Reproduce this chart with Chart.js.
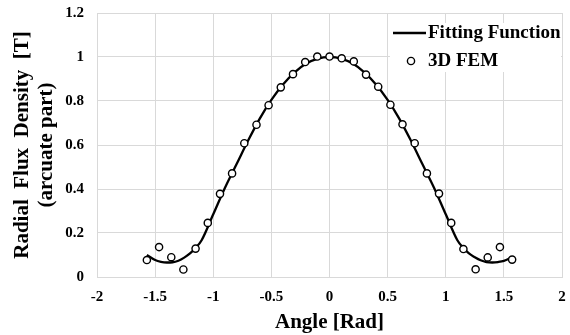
<!DOCTYPE html>
<html>
<head>
<meta charset="utf-8">
<script src="https://cdn.jsdelivr.net/npm/chart.js@4"></script>
<style>
  html, body { margin: 0; padding: 0; background: #fff; }
  #wrap { width: 570px; height: 335px; position: relative; }
</style>
</head>
<body>
<div id="wrap"><canvas id="chart"></canvas></div>
<script>
// ── Data ──
const femAngle = [-1.571, -1.466, -1.361, -1.257, -1.152, -1.047, -0.942, -0.838, -0.733, -0.628,
                  -0.524, -0.419, -0.314, -0.209, -0.105, 0, 0.105, 0.209, 0.314, 0.419,
                  0.524, 0.628, 0.733, 0.838, 0.942, 1.047, 1.152, 1.257, 1.361, 1.466, 1.571];
const femFlux  = [0.077, 0.136, 0.090, 0.034, 0.129, 0.246, 0.378, 0.471, 0.608, 0.692,
                  0.781, 0.862, 0.922, 0.977, 1.002, 1.002, 0.994, 0.980, 0.920, 0.865,
                  0.783, 0.694, 0.608, 0.471, 0.379, 0.246, 0.127, 0.035, 0.089, 0.136, 0.079];

const fitAngle = [-1.571, -1.5, -1.45, -1.4, -1.35, -1.3, -1.25, -1.2, -1.15, -1.1, -1.0, -0.9, -0.8,
                  -0.7, -0.6, -0.5, -0.4, -0.3, -0.2, -0.1, 0, 0.1, 0.2, 0.3, 0.4, 0.5, 0.6, 0.7,
                  0.8, 0.9, 1.0, 1.1, 1.15, 1.2, 1.25, 1.3, 1.35, 1.4, 1.45, 1.5, 1.571];
const fitFlux  = [0.100, 0.077, 0.069, 0.066, 0.067, 0.074, 0.088, 0.107, 0.133, 0.167, 0.285, 0.405, 0.512,
                  0.620, 0.720, 0.805, 0.875, 0.930, 0.970, 0.993, 1.000, 0.993, 0.970, 0.930, 0.875, 0.805, 0.720, 0.620,
                  0.512, 0.405, 0.285, 0.167, 0.133, 0.107, 0.090, 0.076, 0.068, 0.066, 0.068, 0.073, 0.090];

const xTicks = [-2, -1.5, -1, -0.5, 0, 0.5, 1, 1.5, 2];
const xTickLabels = ['-2', '-1.5', '-1', '-0.5', '0', '0.5', '1', '1.5', '2'];
const yTicks = [0, 0.2, 0.4, 0.6, 0.8, 1, 1.2];
const yTickLabels = ['0', '0.2', '0.4', '0.6', '0.8', '1', '1.2'];

const FONT = "'Liberation Serif', 'Times New Roman', serif";
const GRID = '#d9d9d9';

// ── Legend drawn inside the plot, on a white box ──
const innerLegend = {
  id: 'innerLegend',
  afterDraw(chart) {
    const { ctx, chartArea } = chart;
    const right = chartArea.right - 1;
    const top = chartArea.top + 10;
    ctx.save();
    ctx.fillStyle = '#fff';
    ctx.fillRect(right - 171, top, 171, 49);

    ctx.font = `bold 19px ${FONT}`;
    ctx.fillStyle = '#000';
    ctx.textBaseline = 'middle';
    const textX = right - 133;

    // Fitting Function
    const fit = chart.data.datasets[1];
    ctx.strokeStyle = fit.borderColor;
    ctx.lineWidth = fit.borderWidth;
    ctx.beginPath();
    ctx.moveTo(textX - 35, top + 10);
    ctx.lineTo(textX - 2, top + 10);
    ctx.stroke();
    ctx.fillText(fit.label, textX, top + 10);

    // 3D FEM
    const fem = chart.data.datasets[0];
    ctx.beginPath();
    ctx.arc(textX - 17, top + 38, fem.pointRadius, 0, Math.PI * 2);
    ctx.fillStyle = fem.pointBackgroundColor;
    ctx.fill();
    ctx.strokeStyle = fem.pointBorderColor;
    ctx.lineWidth = fem.pointBorderWidth;
    ctx.stroke();
    ctx.fillStyle = '#000';
    ctx.fillText(fem.label, textX, top + 38);
    ctx.restore();
  }
};

new Chart(document.getElementById('chart'), {
  type: 'scatter',
  data: {
    datasets: [
      {
        label: '3D FEM',
        data: femAngle.map((a, i) => ({ x: a, y: femFlux[i] })),
        showLine: false,
        pointRadius: 3.6,
        pointBorderWidth: 1.4,
        pointBorderColor: '#000',
        pointBackgroundColor: '#fff',
        order: 0
      },
      {
        label: 'Fitting Function',
        type: 'line',
        data: fitAngle.map((a, i) => ({ x: a, y: fitFlux[i] })),
        borderColor: '#000',
        borderWidth: 2.3,
        pointRadius: 0,
        fill: false,
        cubicInterpolationMode: 'monotone',
        order: 1
      }
    ]
  },
  options: {
    responsive: true,
    maintainAspectRatio: false,
    animation: false,
    layout: { padding: { top: 13, right: 8, left: 0, bottom: 0 } },
    plugins: {
      legend: { display: false },
      tooltip: { enabled: false }
    },
    scales: {
      x: {
        type: 'linear',
        position: 'bottom',
        min: -2,
        max: 2,
        afterBuildTicks: (s) => { s.ticks = xTicks.map(v => ({ value: v })); },
        afterFit: (s) => { s.height = 58; s.paddingLeft = 0; s.paddingRight = 0; },
        grid: { color: GRID, drawTicks: false },
        border: { color: GRID },
        ticks: {
          padding: 11,
          color: '#000',
          font: { family: FONT, size: 15, weight: 'bold' },
          callback: (v, i) => xTickLabels[i]
        },
        title: {
          display: true,
          text: 'Angle [Rad]',
          color: '#000',
          font: { family: FONT, size: 21, weight: 'bold', lineHeight: 1.2 },
          padding: { top: 0, bottom: 0 }
        }
      },
      y: {
        min: 0,
        max: 1.2,
        afterBuildTicks: (s) => { s.ticks = yTicks.map(v => ({ value: v })); },
        afterFit: (s) => { s.width = 97; s.paddingTop = 0; s.paddingBottom = 0; },
        grid: { color: GRID, drawTicks: false },
        border: { color: GRID },
        ticks: {
          padding: 13,
          color: '#000',
          font: { family: FONT, size: 15, weight: 'bold' },
          callback: (v, i) => yTickLabels[i]
        },
        title: {
          display: true,
          text: ['Radial  Flux  Density  [T]', '(arcuate part)'],
          color: '#000',
          font: { family: FONT, size: 21, weight: 'bold', lineHeight: 1.15 },
          padding: { top: 10.8, bottom: 0 }
        }
      }
    }
  },
  plugins: [innerLegend]
});
</script>
</body>
</html>
